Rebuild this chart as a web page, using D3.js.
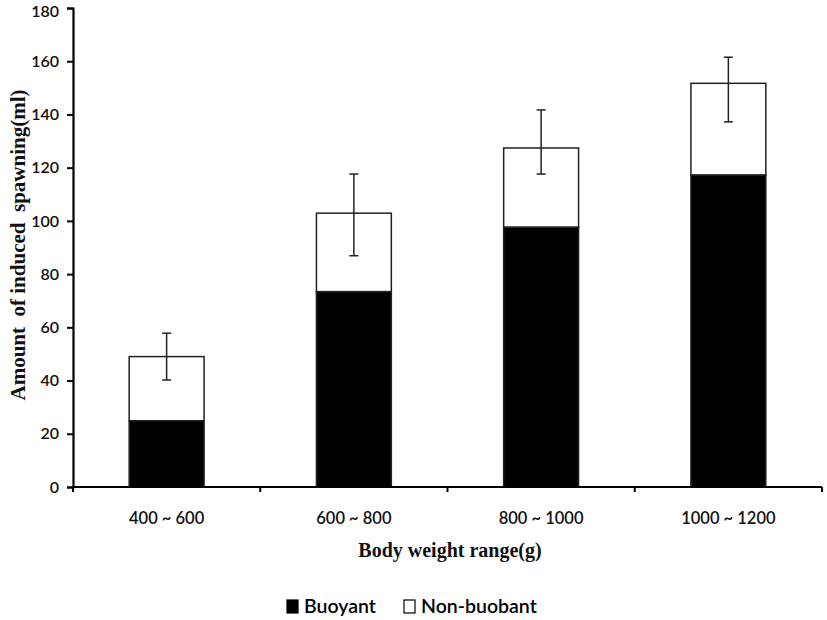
<!DOCTYPE html>
<html><head><meta charset="utf-8">
<script src="https://cdn.jsdelivr.net/npm/d3@7"></script>
<style>body{margin:0;background:#fff;} svg{display:block;}</style>
</head><body>
<svg id="c" width="827" height="620"></svg>
<script>
const categories = ["400 ~ 600", "600 ~ 800", "800 ~ 1000", "1000 ~ 1200"];
const buoyant = [24.9, 73.4, 97.6, 117.2];
const nonBuoyant = [24.1, 29.5, 29.8, 34.5];
const errUpper = [57.8, 117.6, 141.7, 161.5];
const errLower = [40.2, 86.9, 117.6, 137.2];
const yTicks = [0, 20, 40, 60, 80, 100, 120, 140, 160, 180];
const seriesNames = ["Buoyant", "Non-buobant"];

const svg = d3.select("#c");
const x = d3.scaleBand().domain(categories).range([73, 822]).paddingInner(0.6).paddingOuter(0.3);
const xb = d3.scaleBand().domain(categories).range([73, 822]);
const y = d3.scaleLinear().domain([0, 180]).range([487, 8]);
const lblFont = "Lato, 'Open Sans', sans-serif";

// bars
const g = svg.append("g");
categories.forEach((c, i) => {
  const tot = buoyant[i] + nonBuoyant[i];
  g.append("rect").attr("x", x(c)).attr("width", x.bandwidth())
    .attr("y", y(tot)).attr("height", y(buoyant[i]) - y(tot))
    .attr("fill", "#fff").attr("stroke", "#222").attr("stroke-width", 1.5);
  g.append("rect").attr("x", x(c)).attr("width", x.bandwidth())
    .attr("y", y(buoyant[i])).attr("height", y(0) - y(buoyant[i]))
    .attr("fill", "#000").attr("stroke", "#222").attr("stroke-width", 1.5);
  const cx = x(c) + x.bandwidth() / 2;
  const lo = y(errLower[i]), hi = y(errUpper[i]);
  g.append("line").attr("x1", cx).attr("x2", cx).attr("y1", lo).attr("y2", hi).attr("stroke", "#222").attr("stroke-width", 1.5);
  [lo, hi].forEach(v => g.append("line").attr("x1", cx - 4.5).attr("x2", cx + 4.5).attr("y1", v).attr("y2", v).attr("stroke", "#222").attr("stroke-width", 1.5));
});

// y axis
const yAxis = svg.append("g").attr("transform", "translate(73,0)")
  .call(d3.axisLeft(y).tickValues(yTicks).tickSize(6).tickPadding(8));
yAxis.select(".domain").attr("stroke", "#000").attr("stroke-width", 2.2);
yAxis.selectAll(".tick line").attr("stroke", "#000").attr("stroke-width", 2);
yAxis.selectAll(".tick text").attr("font-family", lblFont).attr("font-size", 16).attr("font-weight", 600).attr("fill", "#111")
  .attr("dy", d => d === 180 ? "0.5em" : "0.32em");

// x axis
const xAxis = svg.append("g").attr("transform", "translate(0,487)");
xAxis.append("line").attr("x1", 72).attr("x2", 822).attr("y1", 0).attr("y2", 0).attr("stroke", "#000").attr("stroke-width", 2.2);
const bounds = categories.map(c => xb(c)).concat([xb(categories[categories.length - 1]) + xb.bandwidth()]);
bounds.forEach(b => xAxis.append("line").attr("x1", b).attr("x2", b).attr("y1", 0).attr("y2", 5).attr("stroke", "#000").attr("stroke-width", 2));
categories.forEach(c => xAxis.append("text").attr("x", xb(c) + xb.bandwidth() / 2).attr("y", 37)
  .attr("text-anchor", "middle").attr("font-family", lblFont).attr("font-size", 16.5).attr("font-weight", 600).attr("fill", "#111").text(c));

// titles
svg.append("text").attr("x", 450).attr("y", 557).attr("text-anchor", "middle")
  .attr("font-family", "'Liberation Serif', 'Times New Roman', serif").attr("font-weight", "bold").attr("font-size", 20)
  .attr("fill", "#111").text("Body weight range(g)");
svg.append("text").attr("transform", "translate(25,245) rotate(-90)").attr("text-anchor", "middle")
  .attr("font-family", "'Liberation Serif', 'Times New Roman', serif").attr("font-weight", "bold").attr("font-size", 21)
  .attr("fill", "#111").attr("xml:space", "preserve").style("white-space", "pre").text("Amount  of induced  spawning(ml)");

// legend
const leg = svg.append("g").attr("transform", "translate(287,613)");
const legX = [0, 117];
seriesNames.forEach((s, i) => {
  leg.append("rect").attr("x", legX[i]).attr("y", -13).attr("width", 11).attr("height", 13)
    .attr("fill", i === 0 ? "#000" : "#fff").attr("stroke", "#000").attr("stroke-width", 1.2);
  leg.append("text").attr("x", legX[i] + 17).attr("y", 0).attr("font-family", lblFont)
    .attr("font-size", 19.5).attr("font-weight", 600).attr("fill", "#000").text(s);
});
</script>
</body></html>
